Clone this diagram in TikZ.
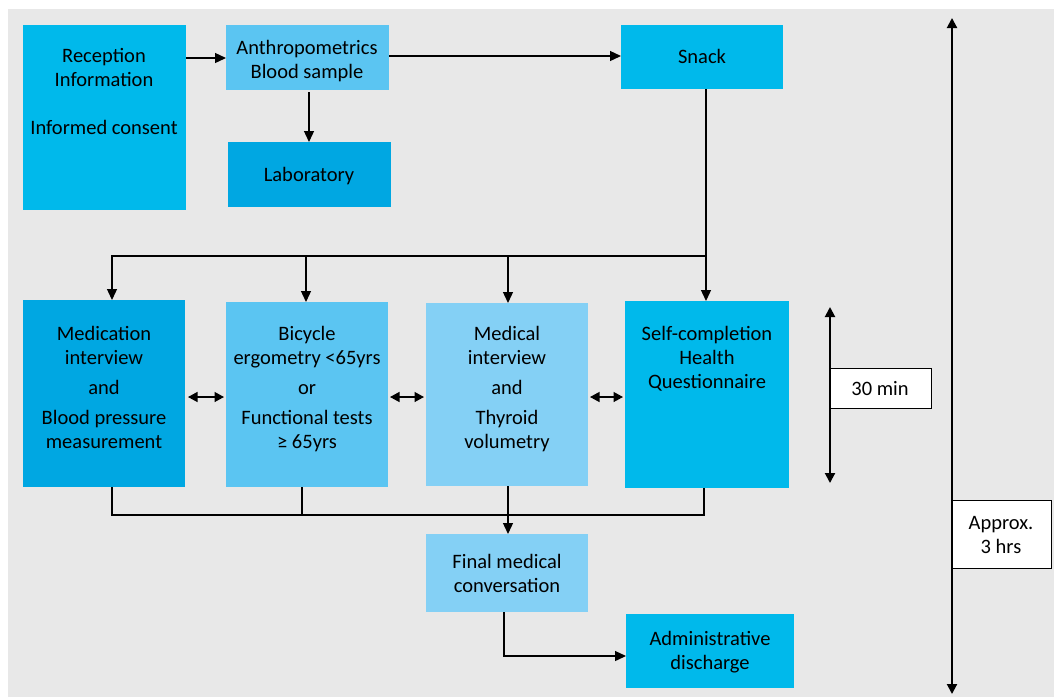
\documentclass[tikz,border=0pt]{standalone}
\usepackage{fontspec}
\setmainfont{Carlito}
\usetikzlibrary{arrows.meta,calc}
\definecolor{cyanA}{HTML}{00B9EB}
\definecolor{cyanD}{HTML}{00A7E2}
\definecolor{cyanM}{HTML}{5BC5F2}
\definecolor{cyanL}{HTML}{84D0F5}
\definecolor{bggray}{HTML}{E8E8E8}
\begin{document}
\begin{tikzpicture}[x=1pt,y=-1pt,
 box/.style={draw=none,inner sep=0,outer sep=0,anchor=north west},
 txt/.style={font=\fontsize{20.5}{24}\selectfont,align=center,inner sep=0},
 conn/.style={line width=1.3pt},
 arr/.style={conn,-{Triangle[length=11pt,width=10pt]}},
 darr/.style={conn,{Triangle[length=9.5pt,width=10pt]}-{Triangle[length=9.5pt,width=10pt]}},
 tarr/.style={line width=2pt,{Triangle[length=10pt,width=10pt]}-{Triangle[length=10pt,width=10pt]}},
 wbox/.style={draw,fill=white,line width=1pt,inner sep=0,outer sep=0,anchor=north west}]
\useasboundingbox (0,0) rectangle (1054,697);
\fill[white] (0,0) rectangle (1054,697);
\fill[bggray] (8,9) rectangle (1054,697);
% boxes
\node[box,fill=cyanA,minimum width=163pt,minimum height=185pt] (rec) at (23,25) {};
\node[box,fill=cyanM,minimum width=163pt,minimum height=65pt] (anth) at (226,25) {};
\node[box,fill=cyanD,minimum width=163pt,minimum height=65pt] (lab) at (228,142) {};
\node[box,fill=cyanA,minimum width=162pt,minimum height=64pt] (snack) at (621,25) {};
\node[box,fill=cyanD,minimum width=162pt,minimum height=187pt] (medi) at (23,300) {};
\node[box,fill=cyanM,minimum width=162pt,minimum height=185pt] (bicy) at (226,302) {};
\node[box,fill=cyanL,minimum width=162pt,minimum height=183pt] (mint) at (426,303) {};
\node[box,fill=cyanA,minimum width=164pt,minimum height=187pt] (self) at (625,301) {};
\node[box,fill=cyanL,minimum width=162pt,minimum height=78pt] (final) at (426,534) {};
\node[box,fill=cyanA,minimum width=168pt,minimum height=74pt] (admin) at (626,614) {};
% texts
\node[txt,anchor=north] (trec) at (104,48) {Reception\\Information\\[24pt]Informed consent};
\node[txt,anchor=north] (tanth) at (307,40) {Anthropometrics\\Blood sample};
\node[txt] (tlab) at (309,176) {Laboratory};
\node[txt] (tsnack) at (702,56) {Snack};
\node[txt,anchor=north] (tmedi) at (104,326) {Medication\\interview\\[6pt]and\\[6pt]Blood pressure\\measurement};
\node[txt,anchor=north] (tbicy) at (307,326) {Bicycle\\ergometry <65yrs\\[6pt]or\\[6pt]Functional tests\\≥ 65yrs};
\node[txt,anchor=north] (tmint) at (507,326) {Medical\\interview\\[6pt]and\\[6pt]Thyroid\\volumetry};
\node[txt,anchor=north] (tself) at (707,326) {Self-completion\\Health\\Questionnaire};
\node[txt,anchor=north] (tfinal) at (507,554) {Final medical\\conversation};
\node[txt,anchor=north] (tadmin) at (710,631) {Administrative\\discharge};
% connectors
\draw[arr] ($(rec.north east)+(0,33)$) -- ($(anth.north west)+(0,33)$);
\draw[arr] ($(anth.north east)+(0,31)$) -- ($(snack.north west)+(0,31)$);
\draw[arr] ($(anth.south west)+(83,2)$) -- ($(lab.north west)+(81,0)$);
\coordinate (split) at (706,256);
\draw[arr] ($(snack.south west)+(85,0)$) -- ($(self.north west)+(81,0)$);
\draw[arr] (split) -| ($(medi.north west)+(89,0)$);
\draw[arr] (split) -| ($(bicy.north west)+(80,0)$);
\draw[arr] (split) -| ($(mint.north west)+(82,0)$);
\coordinate (join) at (508,515);
\draw[conn] ($(medi.south west)+(89,0)$) |- (join);
\draw[conn] ($(self.south west)+(79,0)$) |- (join);
\draw[conn] ($(bicy.south west)+(76,0)$) |- (join);
\draw[arr] ($(mint.south west)+(82,0)$) -- ($(final.north west)+(82,0)$);
\draw[arr] ($(final.south west)+(78,0)$) |- ($(admin.north west)+(0,42)$);
\draw[darr] ($(medi.north east)+(3,97)$) -- ($(bicy.north west)+(-2,95)$);
\draw[darr] ($(bicy.north east)+(2,95)$) -- ($(mint.north west)+(-2,94)$);
\draw[darr] ($(mint.north east)+(2,94)$) -- ($(self.north west)+(-2,96)$);
% time spans
\coordinate (m1) at (830,307);
\coordinate (m2) at (830,483);
\draw[tarr] (m1) -- (m2);
\node[wbox,minimum width=101pt,minimum height=40pt] (min30) at (830,368) {};
\node[txt] (tmin30) at (880,389) {30 min};
\coordinate (h1) at (952,18);
\coordinate (h2) at (952,694);
\draw[tarr] (h1) -- (h2);
\node[wbox,minimum width=99pt,minimum height=68pt] (hrs) at (952,500) {};
\node[txt] (thrs) at (1001,535) {Approx.\\3 hrs};
\end{tikzpicture}
\end{document}
